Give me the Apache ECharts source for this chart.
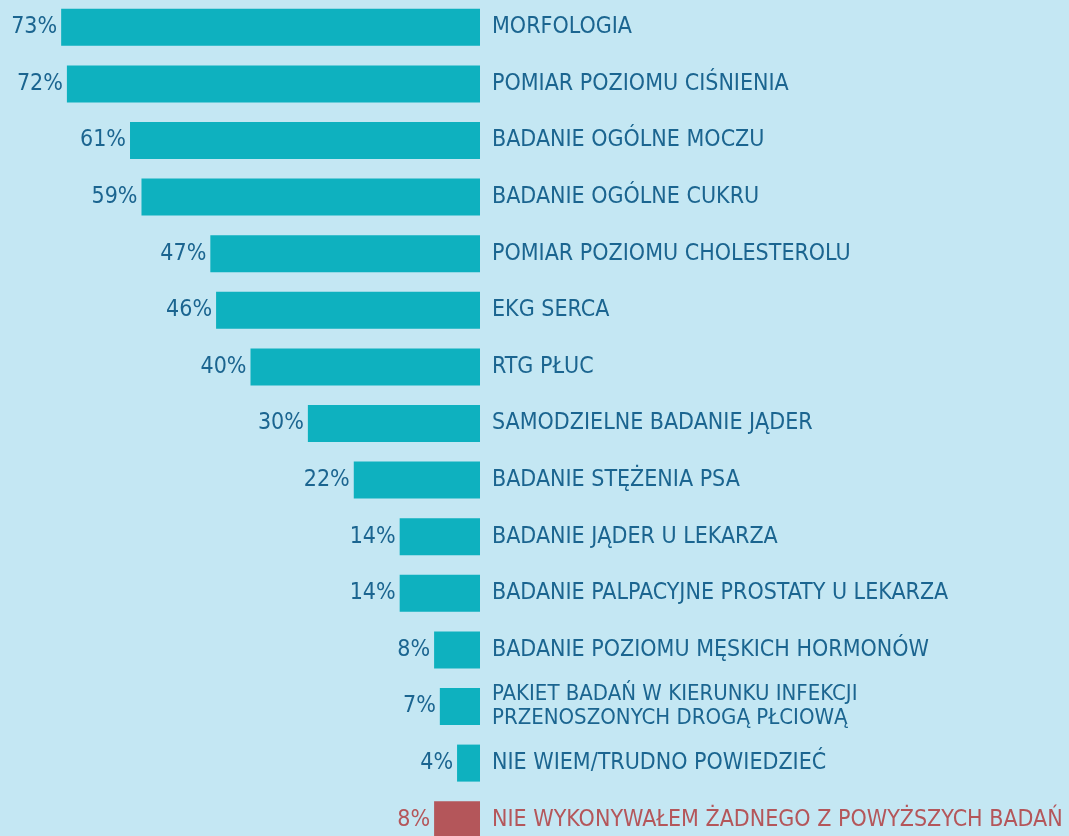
<!DOCTYPE html>
<html>
<head>
<meta charset="utf-8">
<script src="https://cdn.jsdelivr.net/npm/echarts@6/dist/echarts.min.js"></script>
<style>
  html, body { margin: 0; padding: 0; background: #c4e7f3; }
  #chart { width: 1069px; height: 836px; }
</style>
</head>
<body>
<div id="chart"></div>
<script>
  // dane z wykresu
  const categories = [
    'MORFOLOGIA',
    'POMIAR POZIOMU CIŚNIENIA',
    'BADANIE OGÓLNE MOCZU',
    'BADANIE OGÓLNE CUKRU',
    'POMIAR POZIOMU CHOLESTEROLU',
    'EKG SERCA',
    'RTG PŁUC',
    'SAMODZIELNE BADANIE JĄDER',
    'BADANIE STĘŻENIA PSA',
    'BADANIE JĄDER U LEKARZA',
    'BADANIE PALPACYJNE PROSTATY U LEKARZA',
    'BADANIE POZIOMU MĘSKICH HORMONÓW',
    'PAKIET BADAŃ W KIERUNKU INFEKCJI\nPRZENOSZONYCH DROGĄ PŁCIOWĄ',
    'NIE WIEM/TRUDNO POWIEDZIEĆ',
    'NIE WYKONYWAŁEM ŻADNEGO Z POWYŻSZYCH BADAŃ'
  ]
  const values = [73, 72, 61, 59, 47, 46, 40, 30, 22, 14, 14, 8, 7, 4, 8]
  const noneIndex = 14 // wyróżniona kategoria (czerwona)

  const teal = '#0eb1bf'
  const red = '#b4565a'
  const textBlue = '#1b6590'
  const font = '"DejaVu Sans Condensed", "Liberation Sans Narrow", sans-serif'

  const chart = echarts.init(document.getElementById('chart'))

  chart.setOption({
    backgroundColor: '#c4e7f3',
    animation: false,
    grid: { left: 21, width: 459, top: -1, height: 849, outerBoundsMode: 'none', containLabel: false },
    xAxis: {
      type: 'value',
      inverse: true,
      min: 0,
      max: 80,
      show: false
    },
    yAxis: {
      type: 'category',
      inverse: true,
      position: 'right',
      data: categories.map((c, i) => ({
        value: c,
        textStyle: i === noneIndex ? { color: red } : {}
      })),
      axisLine: { show: false },
      axisTick: { show: false },
      axisLabel: {
        margin: 12,
        align: 'left',
        color: textBlue,
        fontFamily: font,
        fontSize: 23,
        formatter: v => v.indexOf('\n') >= 0 ? '{s|' + v + '}' : v,
        rich: {
          s: { fontFamily: font, fontSize: 22, lineHeight: 24, color: textBlue }
        }
      }
    },
    series: [{
      type: 'bar',
      barWidth: 37,
      data: values.map((v, i) => ({
        value: v,
        itemStyle: { color: i === noneIndex ? red : teal },
        label: { color: i === noneIndex ? red : textBlue }
      })),
      label: {
        show: true,
        position: 'left',
        distance: 4,
        formatter: '{c}%',
        fontFamily: font,
        fontSize: 23
      }
    }]
  })
</script>
</body>
</html>
